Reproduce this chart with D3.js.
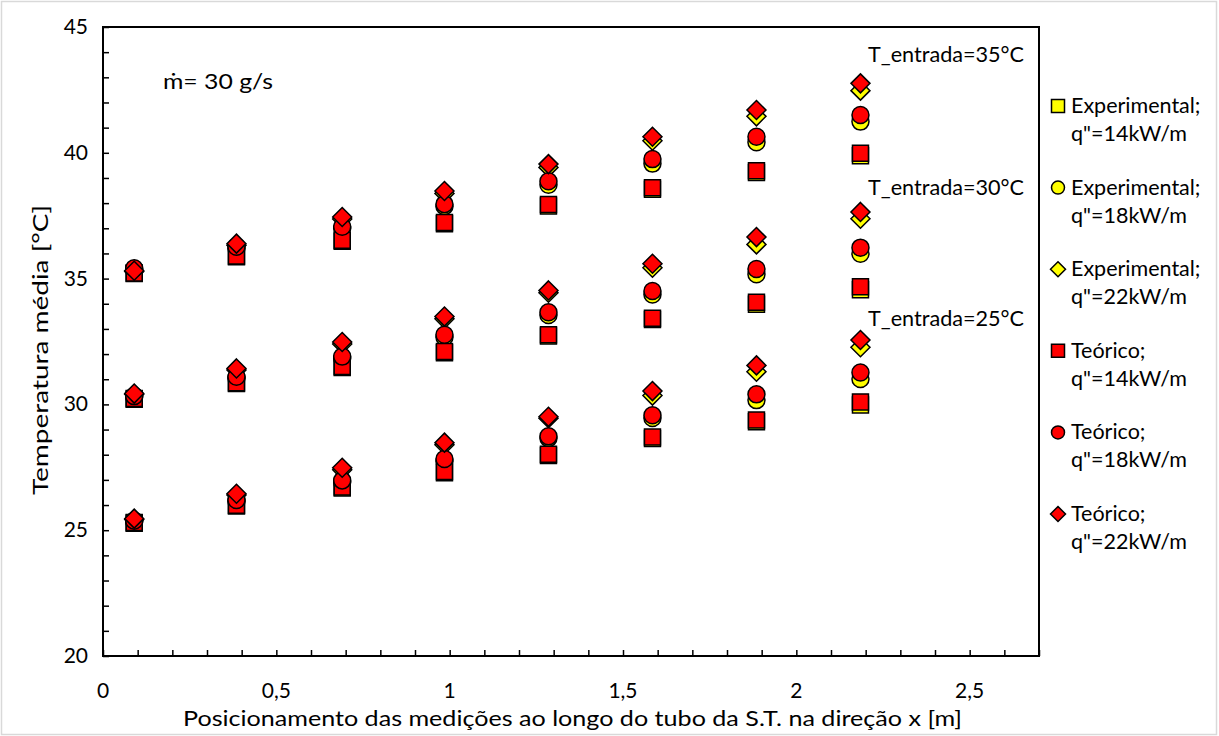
<!DOCTYPE html>
<html><head><meta charset="utf-8">
<script src="https://cdn.jsdelivr.net/npm/d3@7"></script>
<style>body{margin:0;background:#fff}svg{display:block}text{font-family:Lato,"Open Sans",sans-serif;fill:#000}</style>
</head><body><svg id="c" width="1219" height="736"></svg>
<script>
// ---- data ----
const positions = [0.09, 0.385, 0.69, 0.985, 1.285, 1.585, 1.885, 2.185];
const inletLabels = ["T_entrada=35°C", "T_entrada=30°C", "T_entrada=25°C"];
const inletLabelY = [43.9, 38.6, 33.4];
const xTicks = [0, 0.5, 1, 1.5, 2, 2.5];
const yTicks = [20, 25, 30, 35, 40, 45];

const exp14_35 = [35.20, 35.87, 36.48, 37.18, 37.89, 38.55, 39.22, 39.88];
const exp14_30 = [30.20, 30.83, 31.47, 32.05, 32.72, 33.37, 33.98, 34.56];
const exp14_25 = [25.28, 25.96, 26.68, 27.28, 27.97, 28.64, 29.31, 29.98];
const exp18_35 = [35.38, 36.22, 37.00, 37.88, 38.73, 39.57, 40.42, 41.24];
const exp18_30 = [30.30, 31.05, 31.83, 32.68, 33.55, 34.37, 35.17, 35.99];
const exp18_25 = [25.35, 26.15, 26.92, 27.75, 28.66, 29.46, 30.17, 31.01];
const exp22_35 = [35.28, 36.33, 37.37, 38.38, 39.42, 40.48, 41.45, 42.47];
const exp22_30 = [30.40, 31.37, 32.40, 33.40, 34.44, 35.43, 36.36, 37.38];
const exp22_25 = [25.43, 26.40, 27.40, 28.40, 29.45, 30.35, 31.30, 32.27];
const teo14_35 = [35.22, 35.90, 36.52, 37.23, 37.95, 38.61, 39.29, 39.98];
const teo14_30 = [30.23, 30.86, 31.51, 32.10, 32.77, 33.42, 34.06, 34.68];
const teo14_25 = [25.31, 25.99, 26.72, 27.33, 28.02, 28.70, 29.38, 30.10];
const teo18_35 = [35.41, 36.27, 37.06, 37.96, 38.87, 39.75, 40.64, 41.50];
const teo18_30 = [30.33, 31.10, 31.90, 32.77, 33.66, 34.51, 35.38, 36.23];
const teo18_25 = [25.38, 26.20, 26.98, 27.83, 28.73, 29.57, 30.40, 31.27];
const teo22_35 = [35.31, 36.39, 37.45, 38.48, 39.55, 40.64, 41.70, 42.76];
const teo22_30 = [30.43, 31.43, 32.48, 33.49, 34.53, 35.59, 36.65, 37.65];
const teo22_25 = [25.46, 26.45, 27.48, 28.48, 29.51, 30.53, 31.55, 32.56];

const series = [
  {name1:"Experimental;", name2:'q"=14kW/m', shape:"square", color:"#FFFF00", data:[exp14_35, exp14_30, exp14_25]},
  {name1:"Experimental;", name2:'q"=18kW/m', shape:"circle", color:"#FFFF00", data:[exp18_35, exp18_30, exp18_25]},
  {name1:"Experimental;", name2:'q"=22kW/m', shape:"diamond", color:"#FFFF00", data:[exp22_35, exp22_30, exp22_25]},
  {name1:"Teórico;", name2:'q"=14kW/m', shape:"square", color:"#FF0000", data:[teo14_35, teo14_30, teo14_25]},
  {name1:"Teórico;", name2:'q"=18kW/m', shape:"circle", color:"#FF0000", data:[teo18_35, teo18_30, teo18_25]},
  {name1:"Teórico;", name2:'q"=22kW/m', shape:"diamond", color:"#FF0000", data:[teo22_35, teo22_30, teo22_25]}
];

// ---- layout ----
const svg = d3.select("#c");
const L = 103, R = 1039, T = 27, B = 656;
const x = d3.scaleLinear().domain([0, 2.7]).range([L, R]);
const y = d3.scaleLinear().domain([20, 45]).range([B, T]);
const fmt = d3.formatLocale({decimal:",", thousands:".", grouping:[3], currency:["",""]}).format("~g");

svg.append("rect").attr("x",0).attr("y",0).attr("width",1219).attr("height",736).attr("fill","#fff");
svg.append("rect").attr("x",1.5).attr("y",1.5).attr("width",1215).attr("height",733)
  .attr("fill","none").attr("stroke","#d9d9d9").attr("stroke-width",1.5);

// ticks
const gx = svg.append("g").attr("transform",`translate(0,${B})`)
  .call(d3.axisBottom(x).ticks(27).tickSize(-6).tickFormat(""));
const gy = svg.append("g").attr("transform",`translate(${L},0)`)
  .call(d3.axisLeft(y).ticks(25).tickSize(-6).tickFormat(""));
[gx, gy].forEach(g => { g.select(".domain").remove(); g.selectAll("line").attr("stroke","#000").attr("stroke-width",1.5); });

svg.append("rect").attr("x",L).attr("y",T).attr("width",R-L).attr("height",B-T)
  .attr("fill","none").attr("stroke","#000").attr("stroke-width",2);

svg.selectAll(".xl").data(xTicks).join("text").attr("x",d=>x(d)).attr("y",B+42)
  .attr("text-anchor","middle").style("font-size","21px").text(d=>fmt(d));
svg.selectAll(".yl").data(yTicks).join("text").attr("x",L-15).attr("y",d=>y(d)+7)
  .attr("text-anchor","end").style("font-size","21px").text(d=>d);

svg.append("text").attr("x",183).attr("y",726)
  .attr("textLength",779).attr("lengthAdjust","spacingAndGlyphs")
  .style("font-size","22px").text("Posicionamento das medições ao longo do tubo da S.T. na direção x  [m]");
svg.append("text").attr("transform",`translate(48,495) rotate(-90)`)
  .attr("textLength",290).attr("lengthAdjust","spacingAndGlyphs")
  .style("font-size","22px").text("Temperatura média [°C]");

svg.append("text").attr("x",163).attr("y",89).attr("textLength",110).attr("lengthAdjust","spacingAndGlyphs")
  .style("font-size","22px").text("ṁ= 30 g/s");
svg.selectAll(".tl").data(inletLabels).join("text").attr("x",868).attr("y",(d,i)=>y(inletLabelY[i])+7)
  .attr("textLength",156).attr("lengthAdjust","spacingAndGlyphs")
  .style("font-size","21px").text(d=>d);

// markers
function sym(shape, s) {
  if (shape==="square") return d3.symbol(d3.symbolSquare, s*s)();
  if (shape==="circle") return d3.symbol(d3.symbolCircle, Math.PI*(s/2)*(s/2))();
  const h = s/2;
  return `M0,${-h}L${h},0L0,${h}L${-h},0Z`;
}
const sizes = {square:16, circle:17, diamond:19};
series.forEach(s => {
  const g = svg.append("g");
  s.data.forEach(arr => {
    g.selectAll(null).data(arr).join("path")
      .attr("d", sym(s.shape, sizes[s.shape]))
      .attr("transform",(d,i)=>`translate(${x(positions[i])},${y(d)})`)
      .attr("fill", s.color).attr("stroke","#000").attr("stroke-width",1.5);
  });
});

// legend
const lsizes = {square:13, circle:13, diamond:15};
const lg = svg.append("g");
series.forEach((s,i) => {
  const cy = 106 + i*81.6;
  lg.append("path").attr("d", sym(s.shape, lsizes[s.shape])).attr("transform",`translate(1058,${cy})`)
    .attr("fill", s.color).attr("stroke","#000").attr("stroke-width",1.5);
  lg.append("text").attr("x",1071).attr("y",cy+7).style("font-size","21.5px").text(s.name1);
  lg.append("text").attr("x",1071).attr("y",cy+35).style("font-size","21.5px").text(s.name2);
});
</script></body></html>
